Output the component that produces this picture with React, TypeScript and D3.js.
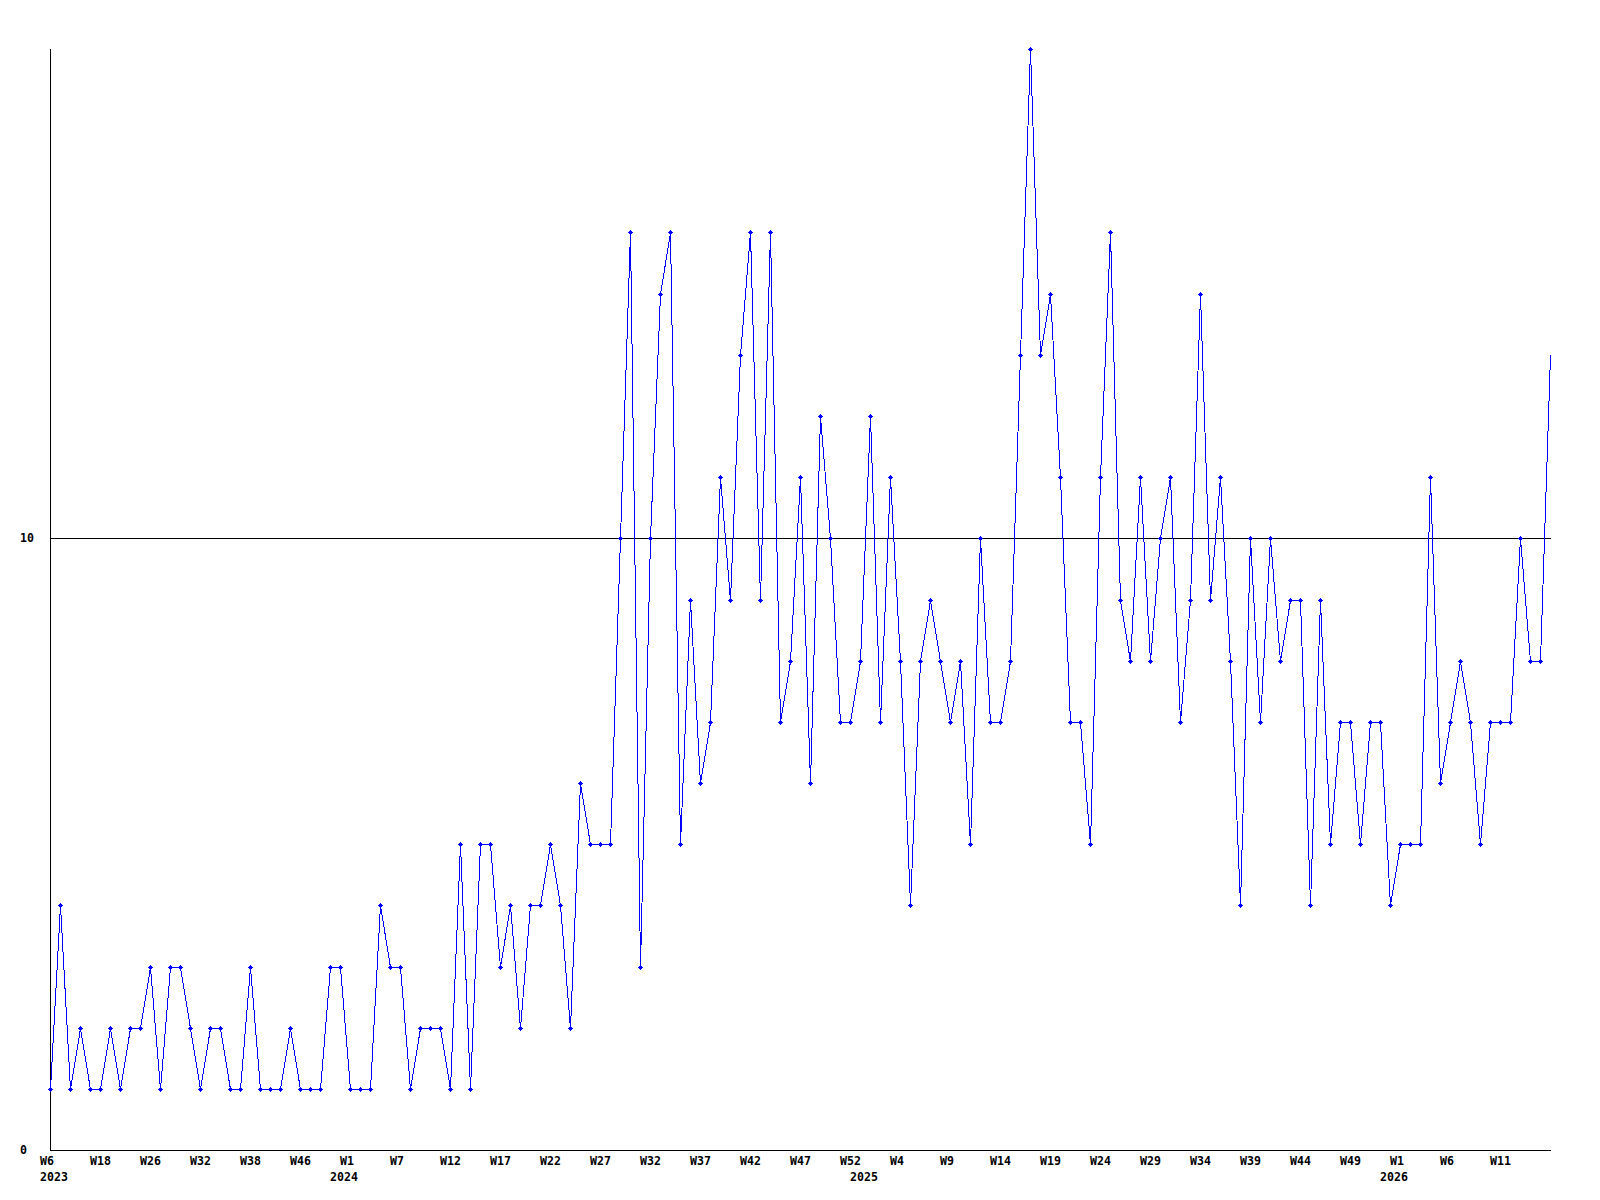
import React from "react";
import * as d3 from "d3";

// Weekly counts, one per data point (index-based x axis)
const values: number[] = [
  1, 4, 1, 2, 1, 1, 2, 1, 2, 2,
  3, 1, 3, 3, 2, 1, 2, 2, 1, 1,
  3, 1, 1, 1, 2, 1, 1, 1, 3, 3,
  1, 1, 1, 4, 3, 3, 1, 2, 2, 2,
  1, 5, 1, 5, 5, 3, 4, 2, 4, 4,
  5, 4, 2, 6, 5, 5, 5, 10, 15, 3,
  10, 14, 15, 5, 9, 6, 7, 11, 9, 13,
  15, 9, 15, 7, 8, 11, 6, 12, 10, 7,
  7, 8, 12, 7, 11, 8, 4, 8, 9, 8,
  7, 8, 5, 10, 7, 7, 8, 13, 18, 13,
  14, 11, 7, 7, 5, 11, 15, 9, 8, 11,
  8, 10, 11, 7, 9, 14, 9, 11, 8, 4,
  10, 7, 10, 8, 9, 9, 4, 9, 5, 7,
  7, 5, 7, 7, 4, 5, 5, 5, 11, 6,
  7, 8, 7, 5, 7, 7, 7, 10, 8, 8,
  13,
];

// Week tick labels, one every 5 points
const weekLabels: string[] = [
  "W6", "W18", "W26", "W32", "W38", "W46", "W1", "W7", "W12", "W17",
  "W22", "W27", "W32", "W37", "W42", "W47", "W52", "W4", "W9", "W14",
  "W19", "W24", "W29", "W34", "W39", "W44", "W49", "W1", "W6", "W11",
];
const weekStep = 5;

// Year labels and the point index where each year begins
const yearLabels: string[] = ["2023", "2024", "2025", "2026"];
const yearIndex: number[] = [0, 29, 81, 134];

// Y axis labels
const yTicks: number[] = [0, 10];
const yMax = 18;

const W = 1600;
const H = 1200;
const left = 50;
const right = 1550;
const top = 49;
const bottom = 1150;
const FONT = "'DejaVu Sans Mono', monospace";

export default function App() {
  const x = d3.scaleLinear().domain([0, values.length - 1]).range([left, right]);
  const y = d3.scaleLinear().domain([0, yMax]).range([bottom, top]);
  const px = (i: number) => Math.round(x(i));
  const py = (v: number) => Math.round(y(v));

  const line = d3
    .line<number>()
    .x((_, i) => px(i) + 0.5)
    .y((v) => py(v) + 0.5);

  return (
    <svg
      width={W}
      height={H}
      style={{ position: "absolute", left: 0, top: 0, background: "#fff" }}
      shapeRendering="crispEdges"
    >
      <rect x={0} y={0} width={W} height={H} fill="#fff" />
      {/* axes */}
      <line x1={left + 0.5} x2={left + 0.5} y1={top} y2={bottom + 1} stroke="#000" strokeWidth={1} />
      <line x1={left} x2={right + 1} y1={bottom + 0.5} y2={bottom + 0.5} stroke="#000" strokeWidth={1} />
      {/* gridlines + y labels */}
      {yTicks.map((t) => (
        <g key={t}>
          {t !== 0 && (
            <line
              x1={left}
              x2={right + 1}
              y1={py(t) + 0.5}
              y2={py(t) + 0.5}
              stroke="#000"
              strokeWidth={1}
            />
          )}
          <text
            x={20}
            y={py(t) + 4}
            fontFamily={FONT}
            fontWeight="bold"
            fontSize={11.6}
            fill="#000"
          >
            {String(t)}
          </text>
        </g>
      ))}
      {/* week labels */}
      {weekLabels.map((lab, k) => (
        <text
          key={"w" + k}
          x={px(k * weekStep) - 10}
          y={1165}
          fontFamily={FONT}
          fontWeight="bold"
          fontSize={11.6}
          fill="#000"
        >
          {lab}
        </text>
      ))}
      {/* year labels */}
      {yearLabels.map((lab, k) => (
        <text
          key={"y" + k}
          x={px(yearIndex[k]) - 10}
          y={1181}
          fontFamily={FONT}
          fontWeight="bold"
          fontSize={11.6}
          fill="#000"
        >
          {lab}
        </text>
      ))}
      {/* series line */}
      <path d={line(values) || ""} fill="none" stroke="#0000ff" strokeWidth={1} />
      {/* markers */}
      {values.slice(0, -1).map((v, i) => {
        const cx = px(i);
        const cy = py(v);
        return (
          <g key={"m" + i} fill="#0000ff">
            <rect x={cx - 2} y={cy} width={5} height={1} />
            <rect x={cx} y={cy - 2} width={1} height={5} />
            <rect x={cx - 1} y={cy - 1} width={3} height={3} />
          </g>
        );
      })}
    </svg>
  );
}
